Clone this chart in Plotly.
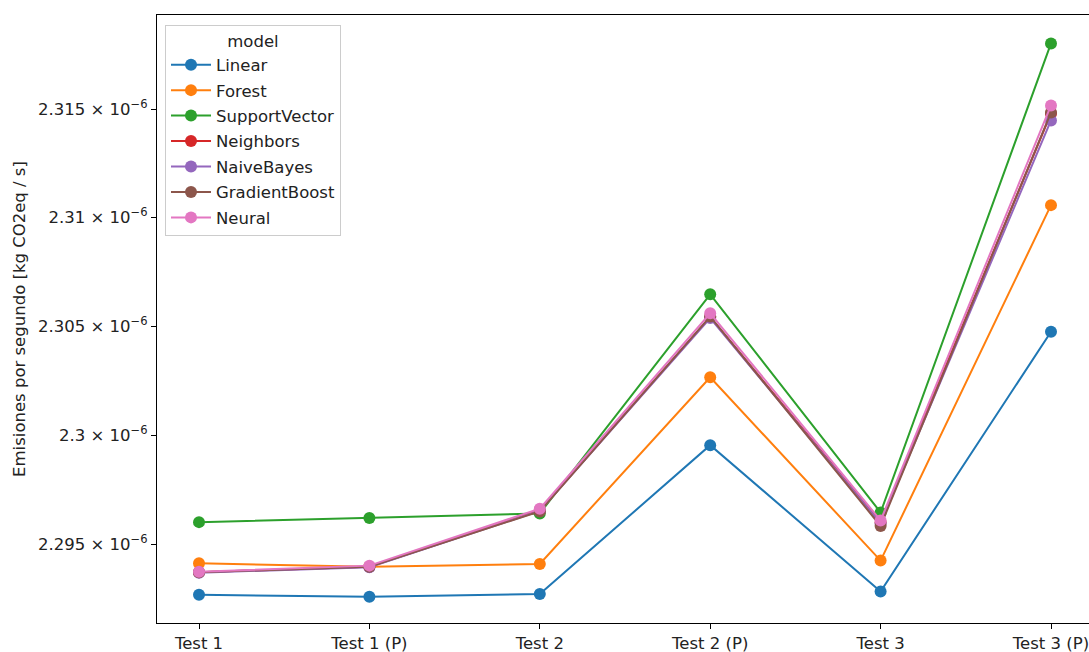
import numpy as np
import plotly.graph_objects as go

# Test runs along the x axis
tests = ["Test 1", "Test 1 (P)", "Test 2", "Test 2 (P)", "Test 3", "Test 3 (P)"]

# Emissions per second [kg CO2eq / s] for each model and test
linear = [2.292693e-6, 2.292601e-6, 2.292725e-6, 2.299540e-6, 2.292845e-6, 2.304747e-6]
forest = [2.294131e-6, 2.293980e-6, 2.294104e-6, 2.302652e-6, 2.294256e-6, 2.310570e-6]
support_vector = [2.296016e-6, 2.296200e-6, 2.296415e-6, 2.306466e-6, 2.296461e-6, 2.318029e-6]
neighbors = [2.293727e-6, 2.293980e-6, 2.296553e-6, 2.305423e-6, 2.296002e-6, 2.314798e-6]
naive_bayes = [2.293704e-6, 2.293957e-6, 2.296530e-6, 2.305377e-6, 2.295956e-6, 2.314476e-6]
gradient_boost = [2.293727e-6, 2.293980e-6, 2.296507e-6, 2.305446e-6, 2.295841e-6, 2.314844e-6]
neural = [2.293750e-6, 2.294026e-6, 2.296631e-6, 2.305593e-6, 2.296094e-6, 2.315165e-6]

models = ["Linear", "Forest", "SupportVector", "Neighbors", "NaiveBayes", "GradientBoost", "Neural"]
series = [linear, forest, support_vector, neighbors, naive_bayes, gradient_boost, neural]
colors = ["#1f77b4", "#ff7f0e", "#2ca02c", "#d62728", "#9467bd", "#8c564b", "#e377c2"]

# y tick values and their labels
ytick_vals = [2.295e-6, 2.300e-6, 2.305e-6, 2.310e-6, 2.315e-6]
ytick_text = ["2.295 × 10<sup>−6</sup>", "2.3 × 10<sup>−6</sup>", "2.305 × 10<sup>−6</sup>",
              "2.31 × 10<sup>−6</sup>", "2.315 × 10<sup>−6</sup>"]

font = "DejaVu Sans, Verdana, sans-serif"
fs = 16.5
x = list(range(len(tests)))

fig = go.Figure()
for name, vals, col in zip(models, series, colors):
    fig.add_trace(go.Scatter(
        x=x, y=vals, name=name, mode="lines+markers",
        legendgroup=name,
        line=dict(color=col, width=2),
        marker=dict(color=col, size=12),
    ))

W, H = 1089, 652
ml, mr, mt, mb = 157, 0, 15, 29

# log axis window
y_lo = np.log10(2.295e-6) - 0.000681
y_hi = np.log10(2.315e-6) + 0.000814

fig.update_layout(
    width=W, height=H,
    margin=dict(l=ml, r=mr, t=mt, b=mb, pad=0),
    paper_bgcolor="white", plot_bgcolor="white",
    font=dict(family=font, size=fs, color="#222"),
    showlegend=True,
    legend=dict(
        title=dict(text="model", side="top center", font=dict(size=fs)),
        x=(165 - ml) / (W - ml - mr), y=1 - (25 - mt) / (H - mt - mb),
        xanchor="left", yanchor="top",
        bgcolor="rgba(255,255,255,0.8)", bordercolor="#cccccc", borderwidth=1,
        tracegroupgap=1, font=dict(size=fs), itemwidth=40,
    ),
    xaxis=dict(
        range=[-0.2465, 5.223], tickmode="array", tickvals=x, ticktext=tests,
        showgrid=False, zeroline=False, showline=True, linecolor="black", linewidth=1.2,
        mirror=True, ticks="outside", ticklen=5, tickcolor="black",
        tickfont=dict(size=fs, color="#222"), ticklabeloverflow="allow",
    ),
    yaxis=dict(
        type="log", range=[y_lo, y_hi], tickmode="array", tickvals=ytick_vals, ticktext=ytick_text,
        showgrid=False, zeroline=False, showline=True, linecolor="black", linewidth=1.2,
        mirror=False, ticks="outside", ticklen=5, tickcolor="black",
        tickfont=dict(size=fs, color="#222"),
        title=dict(text="Emisiones por segundo [kg CO2eq / s]", font=dict(size=fs, color="#222"), standoff=8),
        automargin=False,
    ),
)

fig.write_html("out.html")
